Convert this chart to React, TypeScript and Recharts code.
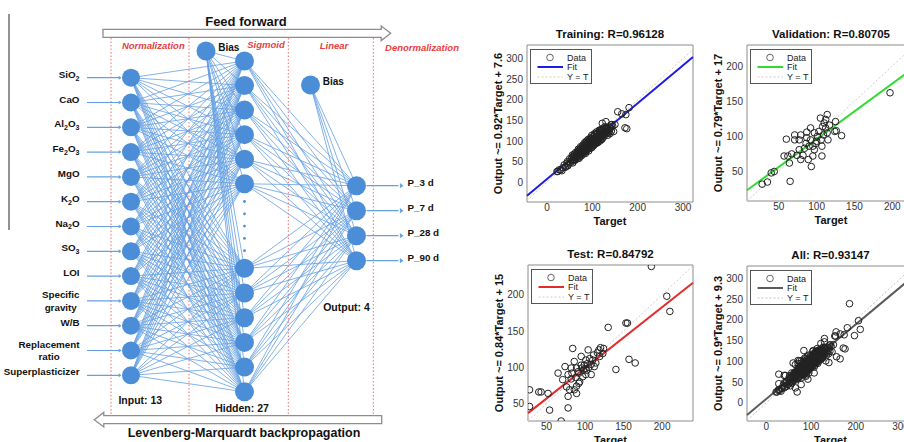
import React from "react";
import { ReferenceArea, ReferenceLine, Scatter, ScatterChart, XAxis, YAxis } from "recharts";

const FONT = '"Liberation Sans", Arial, sans-serif';

// ---- network diagram ----
const inputLabels = [
  "SiO₂", "CaO", "Al₂O₃", "Fe₂O₃", "MgO", "K₂O", "Na₂O", "SO₃", "LOI",
  "Specific\ngravity", "W/B", "Replacement\nratio", "Superplasticizer"
];
const outputLabels = ["P_3 d", "P_7 d", "P_28 d", "P_90 d"];
const stageLabels = ["Normalization", "Sigmoid", "Linear", "Denormalization"];
const hiddenTotal = 27;
const hiddenShownTop = 6;
const hiddenShownBottom = 6;
const ellipsisDots = 5;

// ---- regression plots, [target, output] ----
const trainingPoints: Array<[number, number]> = [
  [22, 26], [24, 26], [27, 30], [30, 30], [33, 28], [35, 35], [38, 42], [40, 36], [42, 38], [44, 46],
  [45, 50], [46, 40], [48, 44], [50, 57], [52, 48], [53, 55], [55, 60], [55, 52], [56, 66], [57, 47],
  [58, 63], [59, 52], [60, 55], [60, 68], [61, 64], [62, 60], [63, 72], [63, 54], [64, 58], [65, 66],
  [66, 62], [66, 70], [67, 74], [68, 58], [68, 68], [69, 80], [70, 64], [70, 76], [71, 70], [71, 58],
  [72, 62], [72, 80], [73, 68], [74, 75], [74, 86], [75, 70], [75, 82], [76, 64], [76, 72], [77, 78],
  [78, 72], [78, 86], [79, 68], [79, 90], [80, 80], [80, 74], [81, 88], [82, 70], [82, 84], [83, 78],
  [83, 96], [84, 92], [84, 74], [85, 86], [85, 70], [86, 80], [86, 96], [87, 76], [87, 100], [88, 88],
  [88, 84], [89, 94], [90, 80], [90, 98], [91, 88], [91, 104], [92, 76], [92, 92], [93, 100], [93, 82],
  [94, 86], [94, 96], [95, 82], [95, 104], [96, 92], [96, 108], [97, 88], [97, 100], [98, 96], [98, 106],
  [99, 84], [99, 114], [100, 92], [100, 102], [101, 110], [102, 96], [102, 88], [103, 104], [103, 90], [104, 112],
  [104, 98], [105, 92], [105, 118], [106, 106], [106, 116], [107, 100], [107, 96], [108, 110], [108, 94], [109, 104],
  [109, 122], [110, 118], [110, 100], [111, 112], [111, 98], [112, 106], [112, 96], [113, 120], [113, 108], [114, 110],
  [114, 102], [115, 116], [115, 126], [116, 108], [116, 124], [117, 112], [117, 100], [118, 104], [118, 120], [119, 114],
  [119, 128], [120, 110], [120, 126], [121, 118], [121, 104], [122, 106], [122, 122], [123, 114], [123, 130], [124, 128],
  [125, 118], [125, 110], [126, 124], [127, 120], [127, 134], [128, 130], [129, 116], [129, 122], [130, 124], [131, 118],
  [131, 134], [132, 128], [133, 122], [134, 114], [135, 130], [136, 120], [137, 134], [138, 126], [139, 118], [140, 132],
  [141, 139], [142, 124], [143, 140], [145, 136], [147, 123], [130, 147], [122, 143], [150, 140], [156, 171], [165, 166],
  [174, 164], [181, 181], [172, 132], [176, 130]
];
const validationPoints: Array<[number, number]> = [
  [28, 32], [35, 35], [40, 48], [44, 50], [65, 36], [57, 72], [62, 72], [64, 62], [60, 96], [71, 95],
  [71, 102], [79, 102], [77, 95], [67, 75], [74, 73], [77, 81], [82, 73], [79, 67], [87, 106], [87, 98],
  [89, 67], [93, 57], [90, 86], [97, 81], [95, 72], [92, 95], [99, 90], [101, 100], [103, 107], [106, 95],
  [108, 114], [109, 102], [105, 126], [110, 119], [112, 112], [107, 72], [114, 131], [112, 124], [115, 95], [114, 105],
  [125, 121], [124, 107], [126, 108], [133, 101], [117, 116], [97, 105], [86, 90], [84, 83], [92, 112], [95, 86],
  [107, 86], [100, 93], [197, 162]
];
const testPoints: Array<[number, number]> = [
  [28, 69], [40, 66], [43, 66], [28, 46], [54, 41], [52, 64], [78, 44], [69, 26], [84, 126], [65, 92],
  [71, 83], [76, 73], [80, 69], [78, 60], [89, 64], [92, 78], [82, 99], [83, 92], [91, 94], [95, 115],
  [99, 103], [101, 110], [102, 96], [106, 112], [104, 124], [110, 110], [112, 101], [118, 124], [119, 115], [123, 119],
  [124, 126], [130, 155], [140, 97], [153, 161], [155, 161], [157, 111], [165, 106], [186, 239], [206, 198], [210, 177],
  [108, 90], [97, 87], [93, 80], [89, 99], [86, 108], [74, 101], [78, 90], [82, 84], [114, 106], [98, 96],
  [101, 90], [95, 103], [89, 74], [86, 69], [105, 100], [100, 98], [103, 105], [108, 104], [96, 99], [92, 92],
  [88, 86], [120, 127], [116, 120], [111, 117]
];
const allPoints = [...trainingPoints, ...validationPoints, ...testPoints];

const panels = [
  {
    name: "Training", r: "0.96128", slope: 0.92, intercept: 7.6, points: trainingPoints,
    fit: "#1d1de8", identity: "#d6d2a0",
    box: { left: 527, top: 45, w: 166, h: 157 },
    xDomain: [-44, 322], yDomain: [-48, 333],
    xTicks: [0, 100, 200, 300], yTicks: [0, 50, 100, 150, 200, 250, 300]
  },
  {
    name: "Validation", r: "0.80705", slope: 0.79, intercept: 17, points: validationPoints,
    fit: "#2fdc2f", identity: "#cdcdcd",
    box: { left: 747, top: 45, w: 168, h: 156 },
    xDomain: [8, 230], yDomain: [8, 230],
    xTicks: [50, 100, 150, 200], yTicks: [50, 100, 150, 200]
  },
  {
    name: "Test", r: "0.84792", slope: 0.84, intercept: 15, points: testPoints,
    fit: "#e42b2b", identity: "#e2c6c6",
    box: { left: 528, top: 265, w: 165, h: 156 },
    xDomain: [26, 240], yDomain: [26, 241],
    xTicks: [50, 100, 150, 200], yTicks: [50, 100, 150, 200]
  },
  {
    name: "All", r: "0.93147", slope: 0.9, intercept: 9.3, points: allPoints,
    fit: "#5a5a5a", identity: "#c2c2c2",
    box: { left: 747, top: 266, w: 167, h: 155 },
    xDomain: [-43, 330], yDomain: [-44, 330],
    xTicks: [0, 100, 200, 300], yTicks: [0, 50, 100, 150, 200, 250, 300]
  }
];

// ---- diagram layout ----
const NODE = "#4b8dd6";
const EDGE = "#65a0e2";

const inputNodes = inputLabels.map((label, i) => ({ x: 131, y: 77.7 + i * 24.8, label }));
const hiddenNodes = [
  ...Array.from({ length: hiddenShownTop }, (_, k) => ({ x: 244.5, y: 61 + k * 24.55 })),
  ...Array.from({ length: hiddenShownBottom }, (_, k) => ({ x: 244.5, y: 268.3 + k * 24.7 }))
];
const dotNodes = Array.from({ length: ellipsisDots }, (_, k) => ({ x: 244.5, y: 201.5 + k * 12.3 }));
const outputNodes = outputLabels.map((label, j) => ({ x: 356.5, y: 185.7 + j * 25, label }));
const biasNodes = [
  { x: 206, y: 51, label: "Bias" },
  { x: 310.5, y: 85, label: "Bias" }
];

type Pt = { x: number; y: number };
const edges: Array<[Pt, Pt]> = [
  ...inputNodes.flatMap((a) => hiddenNodes.map((b) => [a, b] as [Pt, Pt])),
  ...hiddenNodes.map((b) => [biasNodes[0], b] as [Pt, Pt]),
  ...hiddenNodes.flatMap((a) => outputNodes.map((b) => [a, b] as [Pt, Pt])),
  ...outputNodes.map((b) => [biasNodes[1], b] as [Pt, Pt])
];

const separatorsX = [111, 189, 288.3, 373.3];

const annotations = [
  { x: 246, y: 21.5, text: "Feed forward", kind: "banner" },
  { x: 244, y: 432.3, text: "Levenberg-Marquardt backpropagation", kind: "banner2" },
  { x: 153.3, y: 45.7, text: stageLabels[0], kind: "stage" },
  { x: 266, y: 44.3, text: stageLabels[1], kind: "stage" },
  { x: 334, y: 45.7, text: stageLabels[2], kind: "stage" },
  { x: 422, y: 47.7, text: stageLabels[3], kind: "stage" },
  { x: 140.3, y: 400, text: `Input: ${inputLabels.length}`, kind: "count" },
  { x: 242, y: 408.5, text: `Hidden: ${hiddenTotal}`, kind: "count" },
  { x: 346.5, y: 307.3, text: `Output: ${outputLabels.length}`, kind: "count" }
];

const textStyles: Record<string, any> = {
  banner: { fontSize: 13, fontWeight: "bold", fill: "#111" },
  banner2: { fontSize: 12.5, fontWeight: "bold", fill: "#111" },
  stage: { fontSize: 9.5, fontWeight: "bold", fontStyle: "italic", fill: "#e8413e" },
  count: { fontSize: 10.5, fontWeight: "bold", fill: "#111" }
};

let measureCtx: CanvasRenderingContext2D | null = null;
const textWidth = (s: string, font: string) => {
  if (!measureCtx) measureCtx = document.createElement("canvas").getContext("2d");
  if (!measureCtx) return s.length * 5.5;
  measureCtx.font = font;
  return measureCtx.measureText(s).width;
};

const SUBS = "₀₁₂₃₄₅₆₇₈₉";
function richLine(line: string, size: number) {
  const runs: Array<{ sub: boolean; text: string }> = [];
  for (const ch of line) {
    const idx = SUBS.indexOf(ch);
    const sub = idx >= 0;
    const c = sub ? String(idx) : ch;
    const last = runs[runs.length - 1];
    if (last && last.sub === sub) last.text += c;
    else runs.push({ sub, text: c });
  }
  const shift = size * 0.3;
  return runs.map((run, i) => {
    if (run.sub) return <tspan key={i} fontSize={size * 0.72} dy={shift}>{run.text}</tspan>;
    return <tspan key={i} dy={i > 0 ? -shift : 0}>{run.text}</tspan>;
  });
}

const labelSize = 9.8;
function NodeText({ x, y, text, anchor }: { x: number; y: number; text: string; anchor: "start" | "end" }) {
  const lines = text.split("\n");
  const common = { fontSize: labelSize, fontWeight: "bold", fill: "#111" } as const;
  if (lines.length === 1) {
    return <text x={x} y={y} dy="0.35em" textAnchor={anchor} {...common}>{richLine(text, labelSize)}</text>;
  }
  const lineH = 12.5;
  const y0 = y - ((lines.length - 1) * lineH) / 2;
  const w0 = textWidth(lines[0], `bold ${labelSize}px ${FONT}`);
  return (
    <g>
      {lines.map((line, i) => (
        <text key={i} x={i === 0 ? x : x - w0 / 2} y={y0 + i * lineH} dy="0.35em"
          textAnchor={i === 0 ? "end" : "middle"} {...common}>{line}</text>
      ))}
    </g>
  );
}

const arrowHead = (x: number, y: number, s: number) =>
  `${x},${y} ${x - s * 1.4},${y - s} ${x - s * 1.4},${y + s}`;

const inputShape = (p: any) => (
  <g>
    <line x1={p.cx - 44} x2={p.cx - 11} y1={p.cy} y2={p.cy} stroke={EDGE} strokeWidth={1.2} />
    <polygon points={arrowHead(p.cx - 9.5, p.cy, 2)} fill={EDGE} />
    <circle cx={p.cx} cy={p.cy} r={9} fill={NODE} />
    <NodeText x={p.cx - 51.5} y={p.cy} text={p.payload.label} anchor="end" />
  </g>
);
const hiddenShape = (p: any) => <circle cx={p.cx} cy={p.cy} r={9.5} fill={NODE} />;
const dotShape = (p: any) => <circle cx={p.cx} cy={p.cy} r={1.4} fill={NODE} />;
const biasShape = (p: any) => (
  <g>
    <circle cx={p.cx} cy={p.cy} r={9.5} fill={NODE} />
    <text x={p.cx + 12.3} y={p.cy - 4} dy="0.35em" fontSize={10} fontWeight="bold" fill="#111">{p.payload.label}</text>
  </g>
);
const outputShape = (p: any) => (
  <g>
    <line x1={p.cx + 10} x2={p.cx + 42} y1={p.cy} y2={p.cy} stroke={EDGE} strokeWidth={1.2} />
    <polygon points={arrowHead(p.cx + 47, p.cy, 2.6)} fill={EDGE} />
    <circle cx={p.cx} cy={p.cy} r={9.5} fill={NODE} />
    <NodeText x={p.cx + 51} y={p.cy} text={p.payload.label} anchor="start" />
  </g>
);
const annotationShape = (p: any) => (
  <text x={p.cx} y={p.cy} dy="0.35em" textAnchor="middle" {...textStyles[p.payload.kind]}>{p.payload.text}</text>
);

const hollowArrow = (props: any) => {
  const { x1, y1, x2 } = props;
  const dir = x2 > x1 ? 1 : -1;
  const shaft = 4;
  const head = 7.3;
  const xh = x2 - dir * 9.5;
  const pts = [
    [x1, y1 - shaft], [xh, y1 - shaft], [xh, y1 - head], [x2, y1],
    [xh, y1 + head], [xh, y1 + shaft], [x1, y1 + shaft]
  ];
  return <polygon points={pts.map((q) => q.join(",")).join(" ")} fill="#fff" stroke="#8d8d8d" strokeWidth={1.3} />;
};

function NetworkDiagram() {
  return (
    <div style={{ position: "absolute", left: 0, top: 0 }}>
      <ScatterChart width={470} height={442} margin={{ top: 0, right: 0, bottom: 0, left: 0 }}>
        <XAxis type="number" dataKey="x" domain={[0, 470]} hide allowDataOverflow height={0} />
        <YAxis type="number" dataKey="y" domain={[0, 442]} reversed hide allowDataOverflow width={0} />
        <ReferenceLine segment={[{ x: 9, y: 14 }, { x: 9, y: 230 }]} stroke="#777" strokeWidth={1.6} ifOverflow="visible" />
        {separatorsX.map((x) => (
          <ReferenceLine key={x} segment={[{ x, y: 38 }, { x, y: 414 }]} stroke="#ee6f6f"
            strokeWidth={1} strokeDasharray="1.5 2" ifOverflow="visible" />
        ))}
        {edges.map(([a, b], i) => (
          <ReferenceLine key={`e${i}`} segment={[{ x: a.x, y: a.y }, { x: b.x, y: b.y }]}
            stroke={EDGE} strokeWidth={0.9} strokeOpacity={0.9} ifOverflow="visible" />
        ))}
        <ReferenceLine segment={[{ x: 103, y: 33.3 }, { x: 390.7, y: 33.3 }]} shape={hollowArrow} ifOverflow="visible" />
        <ReferenceLine segment={[{ x: 381.7, y: 419.7 }, { x: 94.3, y: 419.7 }]} shape={hollowArrow} ifOverflow="visible" />
        <Scatter data={inputNodes} shape={inputShape} isAnimationActive={false} />
        <Scatter data={hiddenNodes} shape={hiddenShape} isAnimationActive={false} />
        <Scatter data={dotNodes} shape={dotShape} isAnimationActive={false} />
        <Scatter data={biasNodes} shape={biasShape} isAnimationActive={false} />
        <Scatter data={outputNodes} shape={outputShape} isAnimationActive={false} />
        <Scatter data={annotations} shape={annotationShape} isAnimationActive={false} />
      </ScatterChart>
    </div>
  );
}

const ring = (p: any) => <circle cx={p.cx} cy={p.cy} r={3.3} fill="none" stroke="#222" strokeWidth={1} />;

function RegressionPanel({ p }: { p: (typeof panels)[number] }) {
  const { box } = p;
  const [x0, x1] = p.xDomain;
  const lo = Math.max(p.xDomain[0], p.yDomain[0]);
  const hi = Math.min(p.xDomain[1], p.yDomain[1]);
  const fitAt = (x: number) => p.slope * x + p.intercept;
  const data = p.points.map(([x, y]) => ({ x, y }));
  return (
    <>
      <div style={{ position: "absolute", left: box.left - 40, top: box.top - 8 }}>
        <ScatterChart width={box.w + 48} height={box.h + 38} margin={{ top: 8, right: 8, bottom: 0, left: 0 }}>
          <XAxis type="number" dataKey="x" domain={p.xDomain} ticks={p.xTicks} allowDataOverflow
            axisLine={false} tickLine={false} tickSize={0} tickMargin={2} height={30}
            tick={{ fontSize: 10, fill: "#333" }}
            label={{ value: "Target", position: "insideBottom", offset: 7, fontSize: 11, fontWeight: "bold", fill: "#111" }} />
          <YAxis type="number" dataKey="y" domain={p.yDomain} ticks={p.yTicks} allowDataOverflow
            axisLine={false} tickLine={false} tickSize={0} tickMargin={4} width={40}
            tick={{ fontSize: 10, fill: "#333" }}
            label={{
              value: `Output ~= ${p.slope}*Target + ${p.intercept}`, angle: -90, position: "insideLeft", offset: 11,
              fontSize: 11, fontWeight: "bold", fill: "#111", style: { textAnchor: "middle" }
            }} />
          <ReferenceArea x1={x0} x2={x1} y1={p.yDomain[0]} y2={p.yDomain[1]} fill="#fff" fillOpacity={0}
            stroke="#8c8c8c" strokeWidth={1} ifOverflow="visible" />
          <ReferenceLine segment={[{ x: lo, y: lo }, { x: hi, y: hi }]} stroke={p.identity} strokeWidth={1}
            strokeDasharray="2 2" ifOverflow="visible" />
          <ReferenceLine segment={[{ x: x0, y: fitAt(x0) }, { x: x1, y: fitAt(x1) }]} stroke={p.fit} strokeWidth={2}
            ifOverflow="visible" />
          <Scatter data={data} shape={ring} isAnimationActive={false} />
        </ScatterChart>
      </div>
      <div style={{
        position: "absolute", left: box.left, width: box.w, top: box.top - 19, lineHeight: "16px",
        textAlign: "center", fontSize: 11.5, fontWeight: "bold", color: "#111", whiteSpace: "nowrap"
      }}>
        {p.name}: R={p.r}
      </div>
      <svg style={{ position: "absolute", left: box.left + 3, top: box.top + 4 }} width={63} height={36}>
        <rect x={0.5} y={0.5} width={61} height={34} fill="#fff" stroke="#555" />
        <circle cx={20} cy={8.5} r={3.3} fill="none" stroke="#555" strokeWidth={0.9} />
        <text x={37} y={8.5} dy="0.35em" fontSize={9} fill="#222">Data</text>
        <line x1={7.5} x2={33} y1={18} y2={18} stroke={p.fit} strokeWidth={2} />
        <text x={37} y={18} dy="0.35em" fontSize={9} fill="#222">Fit</text>
        <line x1={7.5} x2={33} y1={28} y2={28} stroke={p.identity} strokeWidth={1} strokeDasharray="2 2" />
        <text x={37} y={28} dy="0.35em" fontSize={9} fill="#222">Y = T</text>
      </svg>
    </>
  );
}

export default function App() {
  return (
    <div style={{
      position: "absolute", left: 0, top: 0, width: 904, height: 442, overflow: "hidden",
      background: "#fff", fontFamily: FONT
    }}>
      <NetworkDiagram />
      {panels.map((p) => <RegressionPanel key={p.name} p={p} />)}
    </div>
  );
}
